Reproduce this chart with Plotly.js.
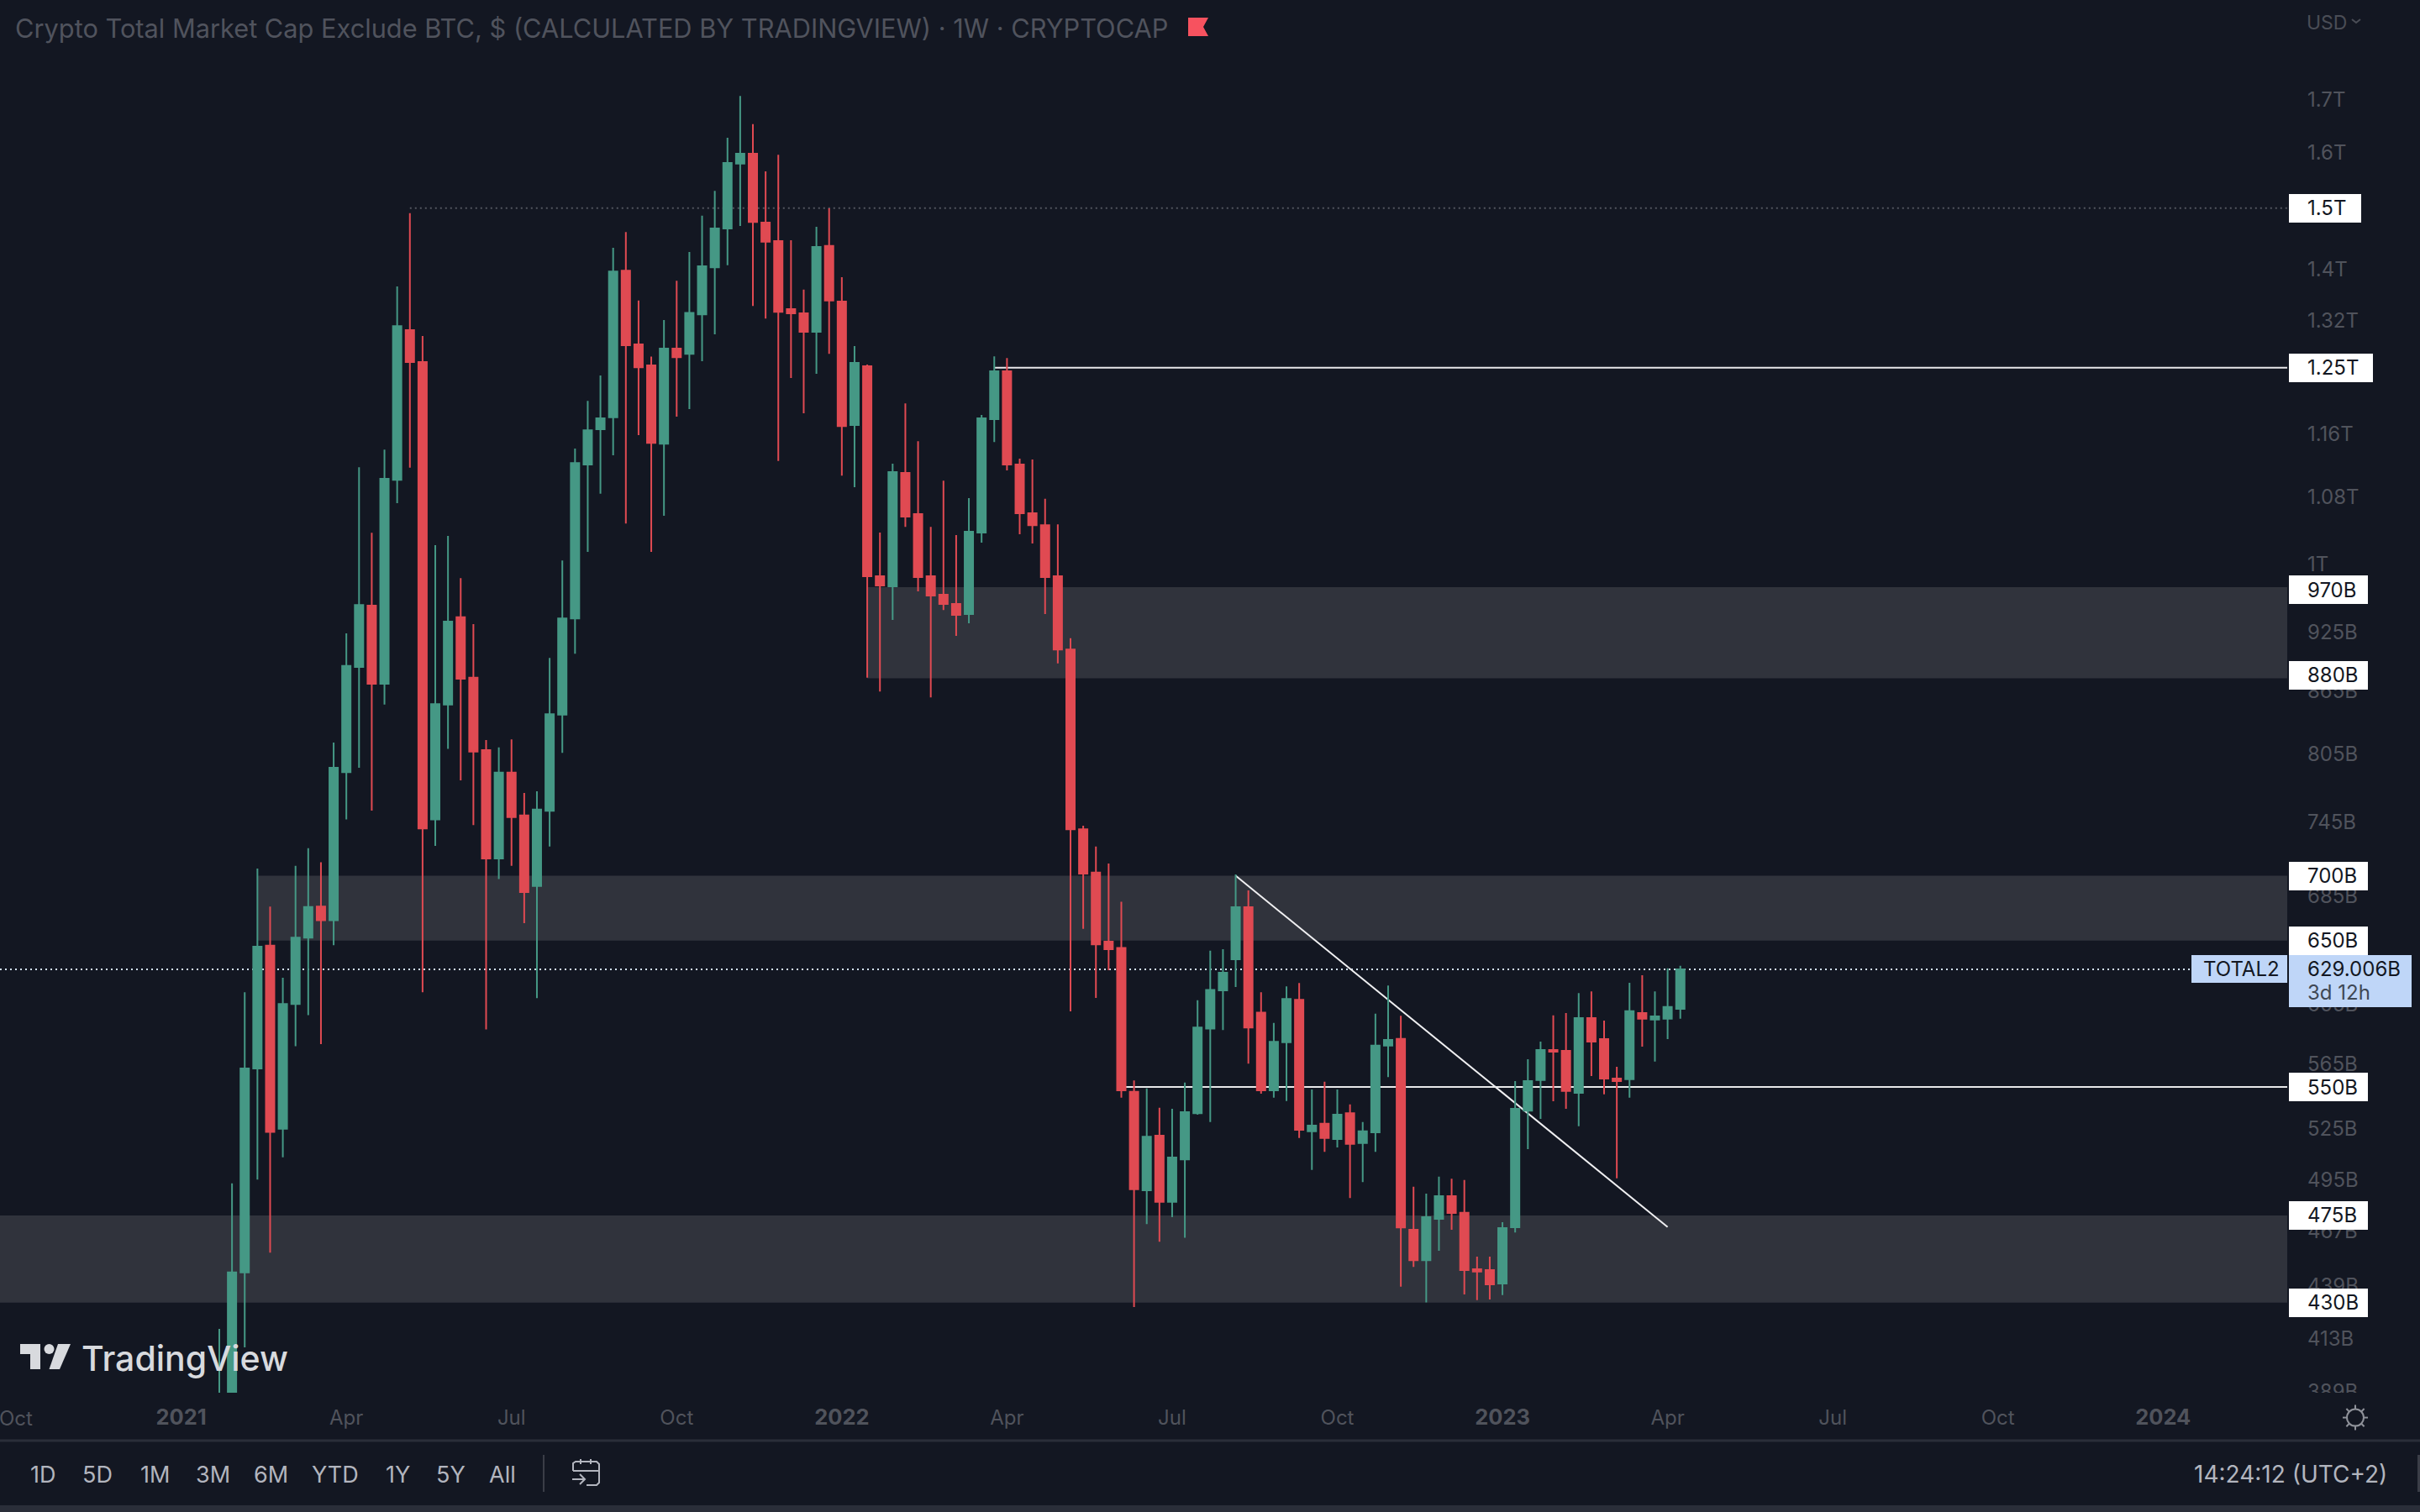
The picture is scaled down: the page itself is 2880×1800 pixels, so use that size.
<!DOCTYPE html>
<html>
<head>
<meta charset="utf-8">
<script src="https://cdn.plot.ly/plotly-3.0.1.min.js"></script>
<style>html,body{margin:0;padding:0;background:#131722;}#chart{width:2880px;height:1800px;}</style>
</head>
<body>
<div id="chart"></div>
<script>
// ---------- data (weekly candles, USD billions) ----------
const weeks = ['2021-01-25','2021-02-01','2021-02-08','2021-02-15','2021-02-22','2021-03-01','2021-03-08','2021-03-15','2021-03-22','2021-03-29','2021-04-05','2021-04-12','2021-04-19','2021-04-26','2021-05-03','2021-05-10','2021-05-17','2021-05-24','2021-05-31','2021-06-07','2021-06-14','2021-06-21','2021-06-28','2021-07-05','2021-07-12','2021-07-19','2021-07-26','2021-08-02','2021-08-09','2021-08-16','2021-08-23','2021-08-30','2021-09-06','2021-09-13','2021-09-20','2021-09-27','2021-10-04','2021-10-11','2021-10-18','2021-10-25','2021-11-01','2021-11-08','2021-11-15','2021-11-22','2021-11-29','2021-12-06','2021-12-13','2021-12-20','2021-12-27','2022-01-03','2022-01-10','2022-01-17','2022-01-24','2022-01-31','2022-02-07','2022-02-14','2022-02-21','2022-02-28','2022-03-07','2022-03-14','2022-03-21','2022-03-28','2022-04-04','2022-04-11','2022-04-18','2022-04-25','2022-05-02','2022-05-09','2022-05-16','2022-05-23','2022-05-30','2022-06-06','2022-06-13','2022-06-20','2022-06-27','2022-07-04','2022-07-11','2022-07-18','2022-07-25','2022-08-01','2022-08-08','2022-08-15','2022-08-22','2022-08-29','2022-09-05','2022-09-12','2022-09-19','2022-09-26','2022-10-03','2022-10-10','2022-10-17','2022-10-24','2022-10-31','2022-11-07','2022-11-14','2022-11-21','2022-11-28','2022-12-05','2022-12-12','2022-12-19','2022-12-26','2023-01-02','2023-01-09','2023-01-16','2023-01-23','2023-01-30','2023-02-06','2023-02-13','2023-02-20','2023-02-27','2023-03-06','2023-03-13','2023-03-20','2023-03-27','2023-04-03','2023-04-10'];
const opens = [355,372,445.1,561.8,646.3,524.4,604.7,652.3,675.8,665.3,787.8,888.3,952.8,871.6,1099.9,1304.8,1258.1,746.5,851,940.2,877.6,808,714,787.4,749.8,691.8,753.9,841.3,939,1119.3,1165.3,1181.2,1396.6,1283.8,1253.5,1146.1,1277.6,1270,1328.6,1401.9,1465.4,1577.9,1595.8,1475.3,1444.3,1336.6,1330,1302.3,1436.4,1348,1170.9,1252.2,985.2,974.1,1108.6,1057.8,985.2,964.7,954.5,943.6,1035.6,1178.8,1245.1,1119.4,1058.8,1044.4,985.2,906.3,738.2,702.6,649.3,644.7,547,488.9,520.3,482.4,506.4,533.8,588,614.2,636.4,675.3,598.7,547.9,578.8,607.6,522.9,527.5,518.3,533.8,516,522.3,576.6,581.1,467.3,451.4,473.2,485.6,476.5,446.7,446.3,439.5,468.7,535.4,554.4,573.8,573.2,546.4,595,580.9,555.4,554.9,598.5,594,594.6,601.4];
const highs = [417.3,492.7,612.8,705.8,675.8,623.1,707.9,722.4,710.9,814.9,923.1,1115.9,1035.5,1138.6,1371.5,1491.2,1296.2,1020.8,1031.7,983.1,932.8,817.3,810.5,817.8,769.4,770.8,897.5,1003.2,1139.8,1203.7,1239,1433.3,1459.5,1349.6,1266.2,1319.9,1380.5,1426.4,1486.8,1529.6,1625.4,1704.7,1650.8,1564,1594,1445.9,1366.6,1468.1,1499.4,1386,1281.3,1254.6,1035.6,1120.4,1200.3,1149.5,1042.5,1098.9,1032.7,1077.3,1184.5,1266.3,1264,1126.9,1125.8,1076.3,1045.5,918,741.1,723.7,709.8,679.6,554.2,549.1,537.1,536.5,552.8,607.3,642.6,643.7,701.1,688.4,612.8,591.7,616.9,619.4,548.5,553.3,548.5,539.2,528.4,598,617.6,596.6,490.8,487,496.5,495.4,494.6,453.2,453.2,471.4,553.8,567.7,579.3,596.9,598.5,612.3,613.5,593.3,562.8,619.5,624.9,613.5,629.8,631.6];
const lows = [345,360,408.6,494.9,455.3,507.6,576.2,597,577.6,646.6,746.5,791.8,754,851,1071.1,1115.2,612.8,724.2,809,780.6,741.6,587.4,697.3,707.9,663.2,608.8,723.7,805.5,901.9,1013,1082.5,1131.2,1046.3,1157.5,1013,1055.7,1182.1,1192.5,1259.4,1298.6,1405.1,1469.7,1341.5,1322.3,1123.8,1235.4,1186.8,1241.3,1270,1105.3,1090.6,877.5,863.9,937.4,1042.5,968.5,858.1,948,920.5,933.8,1023.9,1148.3,1111.8,1033.7,1022.9,943.6,891.9,599.6,658.8,608.9,628.4,543.4,427.9,470.4,461,474.1,463.1,532.9,528.4,587,616.5,564.9,545.8,543.4,541.3,518.9,500.3,510.8,513.4,484.5,493.5,510.8,556.3,437.9,447.9,430.1,456.3,467.3,434.1,431.3,431.6,433.7,465.9,512.4,530.4,541.2,536.5,525.9,556.9,545.5,495.6,543.3,576,566.2,580.9,594.6];
const closes = [372,445.1,561.8,645.5,522.5,604.7,652.3,675.4,665.3,791.8,889.4,953.4,871.6,1101.1,1310.9,1258.1,738.9,851.5,935.6,876.5,806.5,714,787.4,748.4,687.1,754.9,841.8,939,1121.3,1163.9,1180,1395.1,1282.4,1250.8,1147.2,1277.6,1265.2,1330.9,1403.4,1465.4,1579.1,1595.8,1476.3,1443.3,1332.5,1330,1302.3,1434.9,1349.6,1169.6,1256.9,985.2,975,1109.7,1054.7,984.3,963.8,954.5,942.7,1036.6,1180,1245.1,1119.4,1058.8,1044.4,984.3,906.3,738.2,701.8,647.2,643.7,547.9,489.4,519.7,482.4,507.5,534.4,588.7,614.5,626.6,675.3,588.7,547.9,579.1,608.2,523.8,526.3,518.9,532.9,515.4,522.9,576.6,580.4,468.6,451.4,474.1,485.6,476.4,446.3,445.6,439.1,468.2,536.5,553.8,573.8,572.7,547.6,595,579.3,555.4,553.8,599.7,594.6,596.2,602.6,629.006];

const Y = t => '<b><span style="font-size:25.5px">' + t + '</span></b>';
const timeTickDates = ['2021-01-04','2021-04-05','2021-07-05','2021-10-04','2022-01-03','2022-04-04','2022-07-04','2022-10-03','2023-01-02','2023-04-03','2023-07-03','2023-10-02','2024-01-01'];
const timeTickLabels = [Y('2021'),'Apr','Jul','Oct',Y('2022'),'Apr','Jul','Oct',Y('2023'),'Apr','Jul','Oct',Y('2024')];
const priceTicks = [1700,1600,1400,1320,1160,1080,1000,925,865,805,745,685,605,565,525,495,467,439,413,389];
const priceTickLabels = ['1.7T','1.6T','1.4T','1.32T','1.16T','1.08T','1T','925B','865B','805B','745B','685B','605B','565B','525B','495B','467B','439B','413B','389B'];

const zoneStarts = ['2022-01-17','2021-02-15','2020-09-26 04:00'];
const zoneTops = [973,700,475];
const zoneBottoms = [877,650,430];

const levelValues = [1500,1250,550];
const levelStarts = ['2021-05-10','2022-03-28','2022-06-06'];
const trendDates = ['2022-08-08','2023-04-03'];
const trendValues = [700,468.8];
const lastPrice = 629.006;

const levelLabelValues = [1500,1250,970,880,700,650,550,475,430];
const levelLabelTexts = ['1.5T','1.25T','970B','880B','700B','650B','550B','475B','430B'];

const rangeButtons = ['1D','5D','1M','3M','6M','YTD','1Y','5Y','All'];

// ---------- frame ----------
const W = 2880, H = 1800, plotR = 2722, plotB = 1658;
const xRange = ['2020-09-26 04:00','2024-03-09 09:36'];
const yRange = [Math.log10(388), Math.log10(1902)];
const BG = '#131722', UP = '#459885', DOWN = '#e04a52', ZONE = '#30333c', AXIS = '#50535c';
const FONT = 'Inter, Roboto, sans-serif';
const px = x => x / plotR;
const py = y => 1 - y / plotB;

const shapes = [];
zoneStarts.forEach((s, i) => shapes.push({type:'rect', layer:'below', xref:'x', yref:'y', x0:s, x1:xRange[1], y0:zoneBottoms[i], y1:zoneTops[i], fillcolor:ZONE, line:{width:0}}));
levelValues.forEach((v, i) => shapes.push({type:'line', layer:'below', xref:'x', yref:'y', x0:levelStarts[i], x1:xRange[1], y0:v, y1:v,
  line: i === 0 ? {color:'#53565f', width:2, dash:'2px,4px'} : {color:'#e8e8ea', width:2}}));
shapes.push({type:'line', layer:'below', xref:'x', yref:'y', x0:xRange[0], x1:xRange[1], y0:lastPrice, y1:lastPrice, line:{color:'#d3e2f8', width:2, dash:'2px,4px'}});
shapes.push({type:'line', layer:'below', xref:'x', yref:'y', x0:trendDates[0], x1:trendDates[1], y0:trendValues[0], y1:trendValues[1], line:{color:'#f0f0f2', width:2}});

// interface chrome drawn on top, in page pixels
const rectPx = (x0,y0,x1,y1,fill) => ({type:'rect', layer:'above', xref:'paper', yref:'paper', x0:px(x0), x1:px(x1), y0:py(y0), y1:py(y1), fillcolor:fill, line:{width:0}});
const linePx = (x0,y0,x1,y1,color,width) => ({type:'line', layer:'above', xref:'paper', yref:'paper', x0:px(x0), x1:px(x1), y0:py(y0), y1:py(y1), line:{color, width}});
const pathPx = (pts, fill, stroke, sw, closed) => ({type:'path', layer:'above', xref:'paper', yref:'paper',
  path:'M ' + pts.map(p => px(p[0]) + ' ' + py(p[1])).join(' L ') + (closed ? ' Z' : ''),
  fillcolor: fill || 'rgba(0,0,0,0)', line: stroke ? {color:stroke, width:sw} : {width:0}});
const circlePx = (cx,cy,r,fill,stroke,sw) => ({type:'circle', layer:'above', xref:'paper', yref:'paper', x0:px(cx-r), x1:px(cx+r), y0:py(cy+r), y1:py(cy-r),
  fillcolor: fill || 'rgba(0,0,0,0)', line: stroke ? {color:stroke, width:sw} : {width:0}});

shapes.push(rectPx(2724,1658,2880,1670,BG));                   // clips the lowest price tick as the pane does
shapes.push(rectPx(0,1713.5,2880,1716.5,'#2a2e39'));           // time axis rule
shapes.push(rectPx(0,1792,2880,1800,'#2a2e39'));               // bottom band
shapes.push(rectPx(646,1732,648,1776,'#3a3d47'));              // toolbar separator
shapes.push(rectPx(2877,1732,2880,1776,'#3a3d47'));
// flag
shapes.push(pathPx([[1414,21],[1438,21],[1432,32],[1438,43],[1414,43]], '#f7525f', null, 0, true));
// logo
const LOGO = '#d8dade';
shapes.push(pathPx([[24,1600],[48,1600],[48,1630],[36,1630],[36,1612],[24,1612]], LOGO, null, 0, true));
shapes.push(circlePx(58.5,1606,6,LOGO));
shapes.push(pathPx([[69,1600],[84,1600],[71,1630],[58.5,1630]], LOGO, null, 0, true));
// calendar icon
const ICON = '#b2b5be';
shapes.push(pathPx([[682,1751],[682,1742],[685,1740],[710,1740],[713,1743],[713,1765],[710,1768],[698,1768]], null, ICON, 2, false));
shapes.push(linePx(682,1751,713,1751,ICON,2));
shapes.push(linePx(691,1737,691,1743,ICON,2));
shapes.push(linePx(703,1737,703,1743,ICON,2));
shapes.push(linePx(681,1761,696,1761,ICON,2));
shapes.push(pathPx([[690,1755],[696,1761],[690,1767]], null, ICON, 2, false));
// sun icon
const SUN = '#8f929a', sunX = 2803, sunY = 1687.6;
shapes.push(circlePx(sunX,sunY,10,null,SUN,2));
[0,45,90,135,180,225,270,315].forEach(a => {
  const c = Math.cos(a*Math.PI/180), s = Math.sin(a*Math.PI/180);
  shapes.push(linePx(sunX+c*10.5,sunY+s*10.5,sunX+c*15,sunY+s*15,SUN,2));
});

// ---------- text ----------
const annotations = [];
const textPx = (x,y,text,size,color,anchor,extra) => annotations.push(Object.assign({xref:'paper', yref:'paper', x:px(x), y:py(y), text, showarrow:false,
  xanchor:anchor||'left', yanchor:'middle', borderpad:0, borderwidth:0, font:{family:FONT, size, color}}, extra||{}));
const boxPx = (x0,x1,y,h,fill) => annotations.push({xref:'paper', yref:'paper', x:px(x0), y:py(y), text:'\u00a0', showarrow:false, xanchor:'left', yanchor:'middle',
  width:x1-x0, height:h, bgcolor:fill, borderpad:0, borderwidth:0, font:{family:FONT, size:12, color:fill}});

textPx(18,33,'Crypto Total Market Cap Exclude BTC, $ (CALCULATED BY TRADINGVIEW) · 1W · CRYPTOCAP',30.75,'#50535d');
textPx(2745,27,'USD',23,'#4a4d56');
shapes.push(pathPx([[2799,23],[2804,27],[2809,23]], null, '#4a4d56', 2, false));
textPx(97,1617,'TradingView',41,LOGO,'left',{font:{family:FONT,size:41,color:LOGO,weight:500}});
textPx(19,1688,'Oct',24,AXIS,'center');

const labelRight = {'1.5T':2810,'1.25T':2824};
levelLabelValues.forEach((v,i) => {
  const t = levelLabelTexts[i];
  const right = labelRight[t] || 2818;
  annotations.push({xref:'paper', yref:'y', x:px(2724), y:Math.log10(v), text:'\u00a0', showarrow:false, xanchor:'left', yanchor:'middle',
    width:right-2724, height:34, bgcolor:'#ffffff', borderpad:0, borderwidth:0, font:{family:FONT,size:12,color:'#ffffff'}});
  annotations.push({xref:'paper', yref:'y', x:px(2746), y:Math.log10(v), text:t, showarrow:false, xanchor:'left', yanchor:'middle',
    borderpad:0, borderwidth:0, font:{family:FONT,size:24,color:'#131722'}});
});
boxPx(2608,2722,1153.5,33,'#bfd6f8');
boxPx(2724,2870,1168,62,'#bfd6f8');
textPx(2622,1153,'TOTAL2',24,'#131722');
textPx(2746,1153,'629.006B',24,'#131722');
textPx(2746,1181,'3d 12h',24,'#3f4855');

const btnX = [51,116,184,253,322,399,473,536,598];
rangeButtons.forEach((b,i) => textPx(btnX[i],1755,b,27,'#b2b5be','center'));
textPx(2726,1755,'14:24:12 (UTC+2)',28,'#b2b5be','center');

// ---------- chart ----------
const candle = {
  type:'candlestick', x:weeks, open:opens, high:highs, low:lows, close:closes,
  increasing:{line:{color:UP,width:2}, fillcolor:UP},
  decreasing:{line:{color:DOWN,width:2}, fillcolor:DOWN},
  hoverinfo:'skip', showlegend:false
};
const layout = {
  width:W, height:H, autosize:false,
  margin:{l:0,r:W-plotR,t:0,b:H-plotB,pad:0},
  paper_bgcolor:BG, plot_bgcolor:BG, showlegend:false, boxgap:0.339, boxgroupgap:0,
  font:{family:FONT,color:AXIS},
  xaxis:{type:'date', range:xRange, rangeslider:{visible:false}, showgrid:false, zeroline:false, showline:false, ticks:'',
    tickmode:'array', tickvals:timeTickDates, ticktext:timeTickLabels, tickangle:0, ticklabelstandoff:13,
    tickfont:{family:FONT,size:24,color:AXIS}, fixedrange:true},
  yaxis:{type:'log', side:'right', range:yRange, showgrid:false, zeroline:false, showline:false, ticks:'',
    tickmode:'array', tickvals:priceTicks, ticktext:priceTickLabels, ticklabelstandoff:23, ticklabelshift:1,
    tickfont:{family:FONT,size:24,color:AXIS}, fixedrange:true},
  shapes, annotations
};
Plotly.newPlot('chart',[candle],layout,{displayModeBar:false,staticPlot:true});
</script>
</body>
</html>
